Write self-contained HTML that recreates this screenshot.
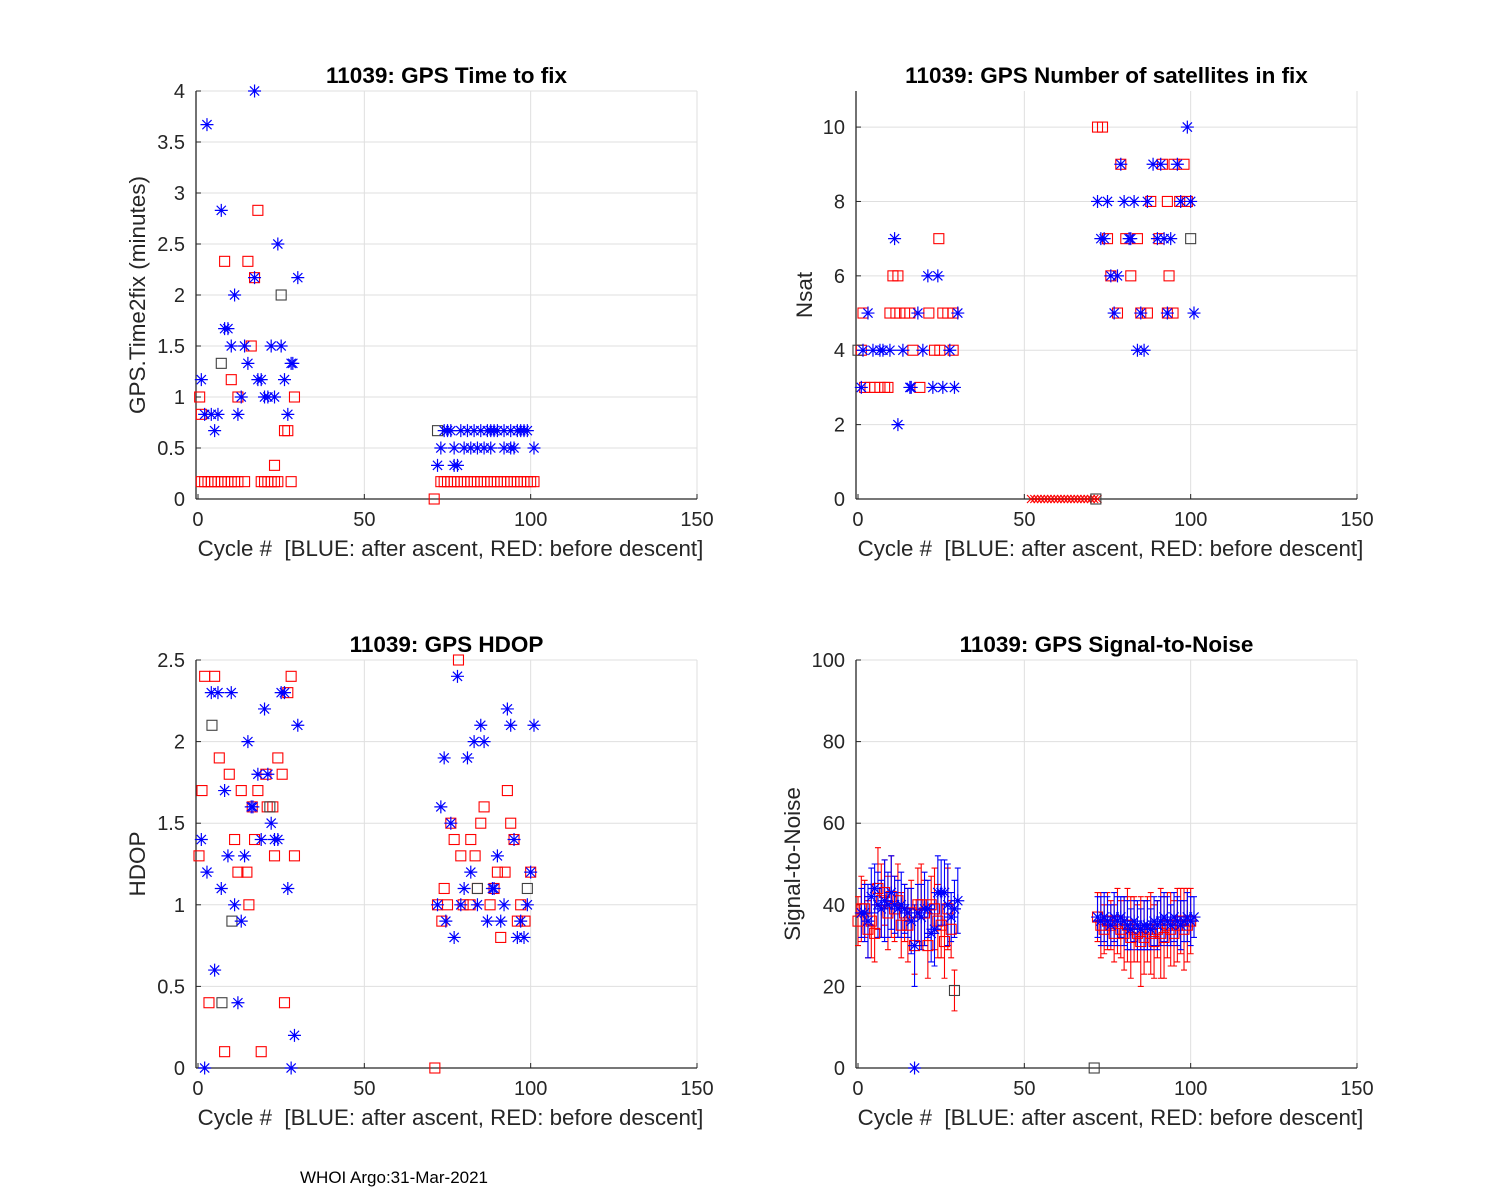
<!DOCTYPE html>
<html><head><meta charset="utf-8"><style>
body{margin:0;background:#fff;}
svg{display:block;font-family:"Liberation Sans",Arial,sans-serif;}
text{white-space:pre;}
</style></head><body>
<svg id="fig" width="1500" height="1200" viewBox="0 0 1500 1200" xmlns="http://www.w3.org/2000/svg">
<rect width="1500" height="1200" fill="#fff"/>
<text x="300" y="1183" font-size="17">WHOI Argo:31-Mar-2021</text>
</svg>
<script>
// ---------- Plot 1: time to fix ----------
const p1StarC=[2.7,17,7,24,17,30,11,8,9,10,14,22,25,15,28.5,28,1,18,19,26,13,20,21,23,2,4,6,12,27,5,
74,75,76,79,81,83,85,87,88,89,90,92,94,96,97,98,99,
73,77,80,82,84,86,88,92,94,95,101,72,77,78];
const p1StarV=[3.67,4,2.83,2.5,2.17,2.17,2,1.67,1.67,1.5,1.5,1.5,1.5,1.33,1.33,1.33,1.17,1.17,1.17,1.17,1,1,1,1,0.83,0.83,0.83,0.83,0.83,0.67,
0.67,0.67,0.67,0.67,0.67,0.67,0.67,0.67,0.67,0.67,0.67,0.67,0.67,0.67,0.67,0.67,0.67,
0.5,0.5,0.5,0.5,0.5,0.5,0.5,0.5,0.5,0.5,0.5,0.33,0.33,0.33];
const p1RedC=[18,8,15,17,16,10,0.5,12,29,1,26,27,23,71,
1,2,3,4,5,6,7,8,9,10,11,12,14,19,20,21,22,23,24,28,
73,74,75,76,77,78,79,80,81,82,83,84,85,86,87,88,89,90,91,92,93,94,95,96,97,98,99,100,101];
const p1RedV=[2.83,2.33,2.33,2.17,1.5,1.17,1,1,1,0.83,0.67,0.67,0.33,0,
0.17,0.17,0.17,0.17,0.17,0.17,0.17,0.17,0.17,0.17,0.17,0.17,0.17,0.17,0.17,0.17,0.17,0.17,0.17,0.17,
0.17,0.17,0.17,0.17,0.17,0.17,0.17,0.17,0.17,0.17,0.17,0.17,0.17,0.17,0.17,0.17,0.17,0.17,0.17,0.17,0.17,0.17,0.17,0.17,0.17,0.17,0.17,0.17,0.17];
const p1BlkC=[25,7,72];
const p1BlkV=[2,1.33,0.67];
const p1YTicks=[0,0.5,1,1.5,2,2.5,3,3.5,4];
const p1YLabels=["0","0.5","1","1.5","2","2.5","3","3.5","4"];

// ---------- Plot 2: Nsat ----------
const p2StarC=[99,79,88.7,91,96,72,75,80,83,87,97,100,11,73,74,81.5,82,90,92,94,21,24,76,78,3,18,30,77,85,93,101,
1.5,4.5,6.6,7.5,9.6,13.5,19.5,27.6,84,86,1,15.6,16,22.5,25.5,29,12];
const p2StarV=[10,9,9,9,9,8,8,8,8,8,8,8,7,7,7,7,7,7,7,7,6,6,6,6,5,5,5,5,5,5,5,
4,4,4,4,4,4,4,4,4,4,3,3,3,3,3,3,2];
const p2RedC=[72,73.5,79,91.5,95,98,88,93,96.7,99,24.3,75,80.5,84,90.5,10.5,12,76,82,93.5,
1.5,9.6,11.4,12.6,14,15.6,21.3,25.5,27,28.6,78,85,87,93,94.7,1,16.5,23,24.6,28.6,2,3.6,5,6.6,8,9,18.6];
const p2RedV=[10,10,9,9,9,9,8,8,8,8,7,7,7,7,7,6,6,6,6,6,
5,5,5,5,5,5,5,5,5,5,5,5,5,5,5,4,4,4,4,4,3,3,3,3,3,3,3];
const p2XC=[52,53,54,55,56,57,58,59,60,61,62,63,64,65,66,67,68,69,70,71,72];
const p2XV=[0,0,0,0,0,0,0,0,0,0,0,0,0,0,0,0,0,0,0,0,0];
const p2BlkC=[0,100,71.5];
const p2BlkV=[4,7,0];
const p2YTicks=[0,2,4,6,8,10];
const p2YLabels=["0","2","4","6","8","10"];

// ---------- Plot 3: HDOP ----------
const p3StarC=[78,4,6,10,25,26,20,93,30,85,94,101,15,83,86,74,81,18,21,8,16,16.5,73,22,76,1,19,23,24,95,9,14,90,2.7,82,100,7,27,80,88.5,89,11,72,79,84,92,99,13,74.5,87,91,97,77,96,98,5,12,29,2,28];
const p3StarV=[2.4,2.3,2.3,2.3,2.3,2.3,2.2,2.2,2.1,2.1,2.1,2.1,2.0,2.0,2.0,1.9,1.9,1.8,1.8,1.7,1.6,1.6,1.6,1.5,1.5,1.4,1.4,1.4,1.4,1.4,1.3,1.3,1.3,1.2,1.2,1.2,1.1,1.1,1.1,1.1,1.1,1.0,1.0,1.0,1.0,1.0,1.0,0.9,0.9,0.9,0.9,0.9,0.8,0.8,0.8,0.6,0.4,0.2,0,0];
const p3RedC=[78.3,2,5,28,27,6.4,24,9.4,20.4,25.3,1.2,13,18,93,16.3,20.8,22.5,86,76,85,94,11,17,77,82,95,0.3,23,29,79,83.3,12,14.7,90,92.3,100,74,84,89,15.3,72,75,79.7,81.8,87.8,97,73.3,96,98.3,91,3.3,26,8,19,71.2];
const p3RedV=[2.5,2.4,2.4,2.4,2.3,1.9,1.9,1.8,1.8,1.8,1.7,1.7,1.7,1.7,1.6,1.6,1.6,1.6,1.5,1.5,1.5,1.4,1.4,1.4,1.4,1.4,1.3,1.3,1.3,1.3,1.3,1.2,1.2,1.2,1.2,1.2,1.1,1.1,1.1,1.0,1.0,1.0,1.0,1.0,1.0,1.0,0.9,0.9,0.9,0.8,0.4,0.4,0.1,0.1,0];
const p3BlkC=[4.2,7.2,10.2,21.6,84,99];
const p3BlkV=[2.1,0.4,0.9,1.6,1.1,1.1];
const p3YTicks=[0,0.5,1,1.5,2,2.5];
const p3YLabels=["0","0.5","1","1.5","2","2.5"];

// ---------- Plot 4: SNR ----------
const p4BlueC=[1,2,3,4,5,6,7,8,9,10,11,12,13,14,15,16,17,18,19,20,21,22,23,24,25,26,27,28,29,30,
72,73,74,75,76,77,78,79,80,81,82,83,84,85,86,87,88,89,90,91,92,93,94,95,96,97,98,99,100,101,17];
const p4BlueV=[38,38,36,42,44,40,39,41,40,43,40,39,40,39,38,36,30,38,37,39,39,33,34,43,43,43,40,37,39,41,
37,36,37,36,35,37,36,37,36,35,34,36,35,34,35,35,34,36,35,36,37,36,35,37,36,35,36,37,36,37,0];
const p4BlueE=[6,7,9,7,6,8,7,10,8,9,7,7,8,6,6,8,10,7,8,9,7,7,9,9,8,8,10,6,7,8,
5,6,6,6,5,6,6,5,6,6,5,5,6,5,6,6,5,6,6,6,6,6,5,6,6,6,5,6,6,5,0];
const p4RedC=[0,1,2,3,4,5,6,7,8,9,10,11,12,13,14,15,16,17,18,19,20,21,22,23,24,25,26,27,28,
72,73,74,75,76,77,78,79,80,81,82,83,84,85,86,87,88,89,90,91,92,93,94,95,96,97,98,99,100,71];
const p4RedV=[36,39,39,34,36,33,44,41,43,38,42,39,41,35,38,35,38,30,40,40,38,30,40,39,36,35,31,39,34,
37,35,34,36,35,33,36,34,33,35,32,34,33,31,32,34,33,31,34,33,32,35,34,33,35,36,34,35,36,0];
const p4RedE=[6,8,7,7,9,7,10,9,8,9,10,8,9,8,7,9,8,7,9,10,8,8,7,10,9,8,9,10,7,
6,8,6,7,6,7,8,7,9,9,10,8,7,11,9,8,10,9,7,11,10,8,9,8,9,8,10,9,8,0];
const p4BlkC=[29];
const p4BlkV=[19];
const p4BlkE=[5];
const p4YTicks=[0,20,40,60,80,100];
const p4YLabels=["0","20","40","60","80","100"];

const xTicks=[0,50,100,150];
const xLabels=["0","50","100","150"];

const NS="http://www.w3.org/2000/svg";
const svg=document.getElementById('fig');
function mk(tag,attrs,parent){const e=document.createElementNS(NS,tag);for(const k in attrs)e.setAttribute(k,attrs[k]);(parent||svg).appendChild(e);return e;}

function makeAxes(cfg){
  const g=mk('g',{});
  
  
  const L=cfg.left,R=cfg.right,T=cfg.top,B=cfg.bottom;
  const sx=v=>L+(v-(-0.6))/(150.6)*(R-L);
  const sy=v=>B-(v-cfg.ymin)/(cfg.ymax-cfg.ymin)*(B-T);
  xTicks.forEach(t=>{if(t>0){const l=mk('line',{x1:sx(t),x2:sx(t),y1:T,y2:B,stroke:'#dfdfdf','stroke-width':1},g);
    }});
  cfg.yt.forEach(t=>{if(t>cfg.ymin){const l=mk('line',{x1:L,x2:R,y1:sy(t),y2:sy(t),stroke:'#dfdfdf','stroke-width':1},g);
    }});
  const ax=mk('line',{x1:L,x2:R,y1:B,y2:B,stroke:'#262626','stroke-width':1.3},g);
  
  const ay=mk('line',{x1:L,x2:L,y1:T,y2:B,stroke:'#262626','stroke-width':1.3},g);
  
  xTicks.forEach((t,i)=>{
    mk('line',{x1:sx(t),x2:sx(t),y1:B,y2:B-5,stroke:'#262626'},g);
    const tx=mk('text',{x:sx(t),y:B+27,'font-size':20,'text-anchor':'middle',fill:'#262626'},g);
    tx.textContent=xLabels[i];
    
  });
  cfg.yt.forEach((t,i)=>{
    mk('line',{x1:L,x2:L+5,y1:sy(t),y2:sy(t),stroke:'#262626'},g);
    const tx=mk('text',{x:L-11,y:sy(t)+7,'font-size':20,'text-anchor':'end',fill:'#262626'},g);
    tx.textContent=cfg.yl[i];
    
  });
  const ti=mk('text',{x:(L+R)/2,y:T-8,'font-size':22.5,'font-weight':'bold','text-anchor':'middle',fill:'#000'},g);
  ti.textContent=cfg.title;
  const xl=mk('text',{x:(L+R)/2+4,y:B+57,'font-size':22.3,'text-anchor':'middle',fill:'#262626'},g);
  xl.textContent='Cycle #  [BLUE: after ascent, RED: before descent]';
  
  const yx=cfg.ylabX, yy=(T+B)/2;
  const yl=mk('text',{x:yx,y:yy,'font-size':22.5,'text-anchor':'middle',fill:'#262626',transform:`rotate(-90 ${yx} ${yy})`},g);
  yl.textContent=cfg.ylabel;
  return {g,sx,sy};
}
function star(g,x,y){
  const p=mk('path',{d:`M${x-6.5},${y}H${x+6.5}M${x},${y-6.5}V${y+6.5}M${x-4.6},${y-4.6}L${x+4.6},${y+4.6}M${x-4.6},${y+4.6}L${x+4.6},${y-4.6}`,stroke:'#0000ff','stroke-width':1.2,fill:'none'},g);
  
}
function sq(g,x,y,c,nm){
  const r=mk('rect',{x:x-5,y:y-5,width:10,height:10,stroke:c,'stroke-width':1.1,fill:'none'},g);
  
}
function xm(g,x,y){
  const p=mk('path',{d:`M${x-4},${y-4}L${x+4},${y+4}M${x-4},${y+4}L${x+4},${y-4}`,stroke:'#ff0000','stroke-width':1.1},g);
  
}
function ebar(g,x,y1,y2,c){
  const p=mk('path',{d:`M${x},${y1}V${y2}M${x-3},${y1}H${x+3}M${x-3},${y2}H${x+3}`,stroke:c,'stroke-width':1.1,fill:'none'},g);
  
}

let a=makeAxes({name:'time-to-fix-chart',left:196,right:697,top:91,bottom:499,ymin:0,ymax:4,yt:p1YTicks,yl:p1YLabels,title:'11039: GPS Time to fix',ylabel:'GPS.Time2fix (minutes)',ylabX:145});
p1RedC.forEach((c,i)=>sq(a.g,a.sx(c),a.sy(p1RedV[i]),'#ff0000','red-square-point'));
p1BlkC.forEach((c,i)=>sq(a.g,a.sx(c),a.sy(p1BlkV[i]),'#404040','black-square-point'));
p1StarC.forEach((c,i)=>star(a.g,a.sx(c),a.sy(p1StarV[i])));

a=makeAxes({name:'nsat-chart',left:856,right:1357,top:91,bottom:499,ymin:0,ymax:10.97,yt:p2YTicks,yl:p2YLabels,title:'11039: GPS Number of satellites in fix',ylabel:'Nsat',ylabX:812});
p2XC.forEach((c,i)=>xm(a.g,a.sx(c),a.sy(p2XV[i])));
p2RedC.forEach((c,i)=>sq(a.g,a.sx(c),a.sy(p2RedV[i]),'#ff0000','red-square-point'));
p2BlkC.forEach((c,i)=>sq(a.g,a.sx(c),a.sy(p2BlkV[i]),'#404040','black-square-point'));
p2StarC.forEach((c,i)=>star(a.g,a.sx(c),a.sy(p2StarV[i])));

a=makeAxes({name:'hdop-chart',left:196,right:697,top:660,bottom:1068,ymin:0,ymax:2.5,yt:p3YTicks,yl:p3YLabels,title:'11039: GPS HDOP',ylabel:'HDOP',ylabX:145});
p3RedC.forEach((c,i)=>sq(a.g,a.sx(c),a.sy(p3RedV[i]),'#ff0000','red-square-point'));
p3BlkC.forEach((c,i)=>sq(a.g,a.sx(c),a.sy(p3BlkV[i]),'#404040','black-square-point'));
p3StarC.forEach((c,i)=>star(a.g,a.sx(c),a.sy(p3StarV[i])));

a=makeAxes({name:'snr-chart',left:856,right:1357,top:660,bottom:1068,ymin:0,ymax:100,yt:p4YTicks,yl:p4YLabels,title:'11039: GPS Signal-to-Noise',ylabel:'Signal-to-Noise',ylabX:800});
p4RedC.forEach((c,i)=>{if(p4RedE[i]>0)ebar(a.g,a.sx(c),a.sy(p4RedV[i]-p4RedE[i]),a.sy(p4RedV[i]+p4RedE[i]),'#ff0000');});
p4BlueC.forEach((c,i)=>{if(p4BlueE[i]>0)ebar(a.g,a.sx(c),a.sy(p4BlueV[i]-p4BlueE[i]),a.sy(p4BlueV[i]+p4BlueE[i]),'#0000ff');});
p4BlkC.forEach((c,i)=>ebar(a.g,a.sx(c),a.sy(p4BlkV[i]-p4BlkE[i]),a.sy(p4BlkV[i]+p4BlkE[i]),'#ff0000'));
p4RedC.forEach((c,i)=>sq(a.g,a.sx(c),a.sy(p4RedV[i]),i===p4RedC.length-1?'#404040':'#ff0000','red-square-point'));
p4BlkC.forEach((c,i)=>sq(a.g,a.sx(c),a.sy(p4BlkV[i]),'#404040','black-square-point'));
p4BlueC.forEach((c,i)=>star(a.g,a.sx(c),a.sy(p4BlueV[i])));
</script>
</body></html>
